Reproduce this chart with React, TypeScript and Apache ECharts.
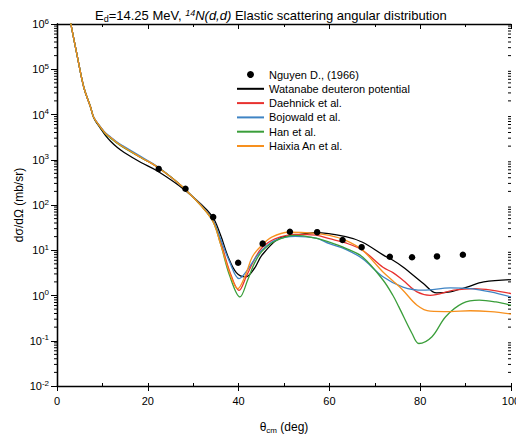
import React, { useEffect, useRef } from "react";
import * as echarts from "echarts";

// Experimental data (Nguyen D., 1966)
const expX = [22.4, 28.3, 34.4, 39.9, 45.3, 51.3, 57.3, 62.9, 67.1, 73.3, 78.2, 83.7, 89.4];
const expY = [627, 228, 54, 5.3, 14, 25.7, 25.1, 16.8, 11.7, 7.2, 7.0, 7.3, 7.95];

// Watanabe deuteron potential (black)
const watX = [2.9, 4.4, 5.9, 7.4, 8.1, 9.6, 10.7, 11.8, 13.3, 14.8, 18.5, 22.2, 28.1, 34, 36, 37.7, 39.5, 41.5, 43.5, 45.1, 48.8, 52.5, 57, 63.6, 67.3, 71.8, 74, 76.2, 80.7, 83.6, 86.6, 90.3, 94, 100];
const watY = [1.2e6, 2.1e5, 4.0e4, 1.45e4, 8400, 4900, 3400, 2570, 1860, 1450, 870, 556, 215, 60, 22, 7.1, 3.2, 2.57, 4.0, 7.7, 18, 21.3, 24.4, 20, 15, 7.9, 6.0, 4.27, 1.84, 1.14, 1.2, 1.54, 1.99, 2.24];

// Daehnick et al. (red)
const daeX = [2.9, 4.4, 5.9, 7.4, 8.1, 9.6, 10.7, 11.8, 13.3, 14.8, 18.5, 22.2, 28.1, 34, 36, 38, 40.1, 41.8, 43.5, 45.1, 48, 52.5, 57, 60, 63.6, 67.3, 71.8, 74, 76.2, 79.3, 82.2, 87.4, 91.9, 96, 100];
const daeY = [1.2e6, 2.1e5, 4.0e4, 1.45e4, 8600, 5200, 3800, 3100, 2340, 1860, 1120, 680, 228, 52, 16, 3.5, 1.3, 2.8, 6.3, 11.2, 17.8, 22.4, 21.5, 18, 14.5, 10, 4.2, 3.2, 2.17, 1.2, 1.01, 1.31, 1.42, 1.3, 1.1];

// Bojowald et al. (blue)
const bojX = [2.9, 4.4, 5.9, 7.4, 8.1, 9.6, 10.7, 11.8, 13.3, 14.8, 18.5, 22.2, 28.1, 34, 36, 38, 40.1, 41.8, 43.5, 45.1, 48, 52.5, 57, 60, 63.6, 67.3, 71.8, 76.2, 80.7, 86.6, 91, 95.5, 100];
const bojY = [1.2e6, 2.1e5, 4.0e4, 1.45e4, 8700, 5300, 3900, 3200, 2420, 1950, 1170, 700, 228, 53, 18, 5.6, 2.37, 3.5, 6.3, 10, 16.6, 20.2, 18.5, 14, 10.5, 6.5, 2.6, 1.54, 1.31, 1.47, 1.42, 1.2, 0.93];

// Han et al. (green)
const hanX = [2.9, 4.4, 5.9, 7.4, 8.1, 9.6, 10.7, 11.8, 13.3, 14.8, 18.5, 22.2, 28.1, 34, 36, 38, 40.3, 42, 43.5, 45.1, 48, 52.5, 57, 60, 63.6, 67.3, 71.8, 74, 75.3, 78.2, 79.7, 82.6, 85.6, 89.3, 93, 96.7, 100];
const hanY = [1.2e6, 2.1e5, 4.0e4, 1.45e4, 8500, 5100, 3700, 3000, 2300, 1830, 1110, 680, 228, 50, 14, 2.8, 0.93, 2.2, 5.2, 9.3, 15.8, 21.3, 18.5, 15.1, 11, 7.1, 2.2, 1.0, 0.56, 0.145, 0.087, 0.123, 0.34, 0.67, 0.79, 0.72, 0.61];

// Haixia An et al. (orange)
const anX = [2.9, 4.4, 5.9, 7.4, 8.1, 9.6, 10.7, 11.8, 13.3, 14.8, 18.5, 22.2, 28.1, 34, 36, 38, 39.8, 41.5, 43, 45.1, 47.3, 51, 56.3, 60, 63.6, 67.3, 71.8, 74, 76.2, 79.3, 82.2, 86.6, 91, 95.5, 100];
const anY = [1.2e6, 2.1e5, 4.0e4, 1.45e4, 8600, 5200, 3800, 3100, 2340, 1860, 1120, 680, 228, 50, 14, 3.2, 1.42, 2.8, 7.1, 12.9, 19.5, 25, 24, 21.3, 16.5, 10, 3.3, 2.1, 1.31, 0.61, 0.45, 0.44, 0.46, 0.44, 0.39];

// Log-axis minor tick multipliers and decades
const minorMult = [2, 3, 4, 5, 6, 7, 8, 9];
const decades = [0.01, 0.1, 1, 10, 100, 1000, 10000, 100000];

const FONT = "Liberation Sans, Arial, sans-serif";

const pairs = (xs: number[], ys: number[]) => xs.map((x, i) => [x, ys[i]]);

export default function App() {
  const ref = useRef<HTMLDivElement>(null);
  useEffect(() => {
    if (!ref.current) return;
    const chart = echarts.init(ref.current, undefined, { renderer: "svg" });
    const minorTicks: number[][] = [];
    decades.forEach((d) => minorMult.forEach((m) => minorTicks.push([0, d * m])));

    const lineSeries = (name: string, color: string, xs: number[], ys: number[]) => ({
      name,
      type: "line",
      data: pairs(xs, ys),
      smooth: 0.35,
      symbol: "none",
      lineStyle: { color, width: 1.3 },
      itemStyle: { color },
      z: 3,
    });

    const option: any = {
      animation: false,
      backgroundColor: "#fff",
      textStyle: { fontFamily: FONT },
      title: {
        text: "{n|E}{sub|d}{n|=14.25 MeV, }{sup|14}{it|N(d,d)}{n| Elastic scattering angular distribution}",
        left: 90,
        top: 3,
        textStyle: {
          fontWeight: "normal",
          rich: {
            n: { fontSize: 13, fontFamily: FONT, fontWeight: "normal", color: "#000" },
            it: { fontSize: 13, fontFamily: FONT, fontWeight: "normal", fontStyle: "italic", color: "#000" },
            sub: { fontSize: 9, fontFamily: FONT, fontWeight: "normal", color: "#000", verticalAlign: "bottom", padding: [6, 0, 0, 0] },
            sup: { fontSize: 9, fontFamily: FONT, fontWeight: "normal", fontStyle: "italic", color: "#000", verticalAlign: "top", padding: [0, 0, 5, 0] },
          },
        },
      },
      grid: {
        left: 57,
        right: 5,
        top: 24,
        bottom: 55,
        containLabel: false,
        outerBoundsMode: "none",
      },
      legend: {
        orient: "vertical",
        left: 236,
        top: 69,
        padding: 0,
        itemWidth: 27,
        itemHeight: 7,
        itemGap: 3.3,
        itemStyle: { opacity: 0 },
        textStyle: { fontSize: 11, fontFamily: FONT, color: "#000" },
        data: [
          { name: "Nguyen D., (1966)", icon: "circle", itemStyle: { opacity: 1, color: "#000" } },
          "Watanabe deuteron potential",
          "Daehnick et al.",
          "Bojowald et al.",
          "Han et al.",
          "Haixia An et al.",
        ],
      },
      xAxis: [
        {
          type: "value",
          position: "bottom",
          min: 0,
          max: 100,
          interval: 20,
          name: "{t|θ}{s|cm}{t| (deg)}",
          nameLocation: "middle",
          nameGap: 34,
          nameMoveOverlap: false,
          nameTextStyle: {
            rich: {
              t: { fontSize: 12, fontFamily: FONT, color: "#000" },
              s: { fontSize: 8, fontFamily: FONT, color: "#000", verticalAlign: "bottom", padding: [6, 0, 0, 0] },
            },
          },
          axisLine: { show: true, lineStyle: { color: "#000", width: 1.3 } },
          axisTick: { show: true, inside: false, length: 5, lineStyle: { color: "#000" } },
          axisLabel: { fontSize: 11, fontFamily: FONT, color: "#000", margin: 9 },
          splitLine: { show: false },
        },
        {
          type: "value",
          position: "top",
          min: 0,
          max: 100,
          interval: 20,
          axisLine: { show: true, lineStyle: { color: "#000", width: 1.3 } },
          axisTick: { show: true, inside: true, length: 5, lineStyle: { color: "#000" } },
          minorTick: { show: true, splitNumber: 2, length: 3, lineStyle: { color: "#000" } },
          axisLabel: { show: false },
          splitLine: { show: false },
        },
        {
          type: "value",
          position: "bottom",
          min: 0,
          max: 100,
          interval: 10,
          axisLine: { show: false },
          axisTick: { show: true, inside: true, length: 3, lineStyle: { color: "#000" } },
          axisLabel: { show: false },
          splitLine: { show: false },
        },
      ],
      yAxis: [
        {
          type: "log",
          logBase: 10,
          position: "left",
          min: 0.01,
          max: 1e6,
          splitNumber: 8,
          name: "dσ/dΩ (mb/sr)",
          nameLocation: "middle",
          nameGap: 32,
          nameMoveOverlap: false,
          nameTextStyle: { fontSize: 12, fontFamily: FONT, color: "#000" },
          axisLine: { show: true, lineStyle: { color: "#000", width: 1.3 } },
          axisTick: { show: true, inside: false, length: 6, lineStyle: { color: "#000" } },
          axisLabel: {
            margin: 8,
            formatter: (v: number) => `{b|10}{s|${Math.round(Math.log10(v))}}`,
            rich: {
              b: { fontSize: 11, fontFamily: FONT, color: "#000" },
              s: { fontSize: 8, fontFamily: FONT, color: "#000", verticalAlign: "top", padding: [0, 0, 6, 0] },
            },
          },
          splitLine: { show: false },
        },
        {
          type: "log",
          logBase: 10,
          position: "right",
          min: 0.01,
          max: 1e6,
          splitNumber: 8,
          axisLine: { show: true, lineStyle: { color: "#000", width: 1.3 } },
          axisTick: { show: true, inside: true, length: 5, lineStyle: { color: "#000" } },
          axisLabel: { show: false },
          splitLine: { show: false },
        },
      ],
      series: [
        {
          name: "minorTicks",
          type: "custom",
          silent: true,
          clip: false,
          xAxisIndex: 0,
          yAxisIndex: 0,
          data: minorTicks,
          renderItem: (params: any, api: any) => {
            const v = api.value(1);
            const pL = api.coord([0, v]);
            const pR = api.coord([100, v]);
            return {
              type: "group",
              children: [
                { type: "line", shape: { x1: pL[0] - 3, y1: pL[1], x2: pL[0], y2: pL[1] }, style: { stroke: "#000", lineWidth: 1 } },
                { type: "line", shape: { x1: pR[0] - 3, y1: pR[1], x2: pR[0], y2: pR[1] }, style: { stroke: "#000", lineWidth: 1 } },
              ],
            };
          },
          z: 1,
        },
        lineSeries("Watanabe deuteron potential", "#000000", watX, watY),
        lineSeries("Daehnick et al.", "#e8312f", daeX, daeY),
        lineSeries("Bojowald et al.", "#3f84c4", bojX, bojY),
        lineSeries("Han et al.", "#3a9e3a", hanX, hanY),
        lineSeries("Haixia An et al.", "#f7901e", anX, anY),
        {
          name: "Nguyen D., (1966)",
          type: "scatter",
          data: pairs(expX, expY),
          symbol: "circle",
          symbolSize: 6.5,
          itemStyle: { color: "#000", opacity: 1 },
          z: 5,
        },
      ],
    };
    chart.setOption(option);
    return () => chart.dispose();
  }, []);
  return <div ref={ref} style={{ position: "absolute", left: 0, top: 0, width: 516, height: 441 }} />;
}
